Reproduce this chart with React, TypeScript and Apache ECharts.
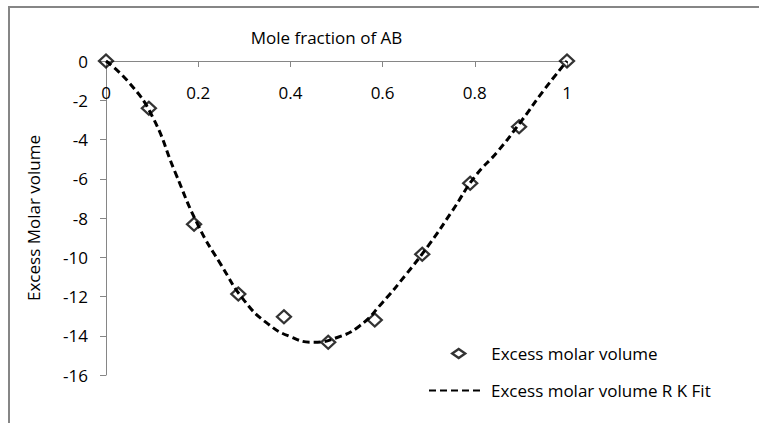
import React, { useEffect, useRef } from "react";
import * as echarts from "echarts";

const xObs = [0, 0.093, 0.191, 0.287, 0.386, 0.482, 0.583, 0.686, 0.79, 0.896, 1];
const yObs = [0, -2.41, -8.32, -11.87, -13.03, -14.33, -13.2, -9.85, -6.23, -3.35, 0];

const xFit = [0, 0.05, 0.1, 0.15, 0.2, 0.25, 0.3, 0.35, 0.4, 0.45, 0.5, 0.55, 0.6, 0.65, 0.7, 0.75, 0.8, 0.85, 0.9, 0.95, 1];
const yFit = [0, -1.1, -2.8, -5.67, -8.38, -10.4, -12.21, -13.37, -14.05, -14.33, -14.1, -13.5, -12.3, -10.9, -9.38, -7.68, -5.9, -4.6, -3.09, -1.48, 0];

const seriesNames = ["Excess molar volume", "Excess molar volume R K Fit"];
const xTitle = "Mole fraction of AB";
const yTitle = "Excess Molar volume";

const FONT = "Open Sans";

export default function App() {
  const ref = useRef<HTMLDivElement>(null);
  useEffect(() => {
    const chart = echarts.init(ref.current!, null, { renderer: "svg" });
    chart.setOption({
      animation: false,
      backgroundColor: "#fff",
      textStyle: { fontFamily: FONT, color: "#000" },
      graphic: [
        {
          type: "rect",
          shape: { x: 9, y: 7, width: 800, height: 500 },
          style: { fill: "none", stroke: "#868686", lineWidth: 2 },
          silent: true,
        },
      ],
      grid: { left: 106, right: 192, top: 61, bottom: 48, containLabel: false },
      xAxis: {
        type: "value",
        position: "top",
        min: 0,
        max: 1,
        interval: 0.2,
        name: xTitle,
        nameLocation: "middle",
        nameGap: 15,
        nameTextStyle: { fontFamily: FONT, fontSize: 17, color: "#000", padding: [0, 20, 0, 0] },
        axisLine: { onZero: false, lineStyle: { color: "#868686", width: 1 } },
        axisTick: { show: true, inside: true, length: 6, lineStyle: { color: "#868686" } },
        axisLabel: { inside: true, margin: 23, fontFamily: FONT, fontSize: 17, color: "#000" },
        splitLine: { show: false },
      },
      yAxis: {
        type: "value",
        min: -16,
        max: 0,
        interval: 2,
        name: yTitle,
        nameLocation: "middle",
        nameRotate: 90,
        nameGap: 64,
        nameTextStyle: { fontFamily: FONT, fontSize: 17, color: "#000" },
        axisLine: { show: true, lineStyle: { color: "#868686", width: 1 } },
        axisTick: { show: true, length: 6, lineStyle: { color: "#868686" } },
        axisLabel: { margin: 18, fontFamily: FONT, fontSize: 17, color: "#000" },
        splitLine: { show: false },
      },
      legend: [
        {
          data: [
            {
              name: seriesNames[0],
              icon: "diamond",
              itemStyle: { color: "#fff", borderColor: "#000", borderWidth: 2.4 },
            },
          ],
          padding: 0,
          left: 451,
          top: 345,
          itemWidth: 13,
          itemHeight: 9,
          textStyle: { fontFamily: FONT, fontSize: 17, color: "#000", padding: [0, 0, 0, 21] },
        },
        {
          data: [{ name: seriesNames[1], itemStyle: { opacity: 0 } }],
          padding: 0,
          left: 428,
          top: 382,
          itemWidth: 55,
          itemHeight: 14,
          textStyle: { fontFamily: FONT, fontSize: 17, color: "#000", padding: [0, 0, 0, 2] },
        },
      ],
      series: [
        {
          name: seriesNames[1],
          type: "line",
          data: xFit.map((x, i) => [x, yFit[i]]),
          smooth: true,
          symbol: "none",
          lineStyle: { color: "#000", width: 3, type: [7, 4] },
          itemStyle: { color: "#000" },
          z: 2,
        },
        {
          name: seriesNames[0],
          type: "scatter",
          data: xObs.map((x, i) => [x, yObs[i]]),
          symbol: "diamond",
          symbolSize: [14, 13],
          itemStyle: { color: "rgba(255,255,255,0)", borderColor: "#000", borderWidth: 2.3 },
          z: 3,
        },
      ],
    });
    return () => chart.dispose();
  }, []);
  return (
    <div
      ref={ref}
      style={{ position: "absolute", left: 0, top: 0, width: 759, height: 423, background: "#fff" }}
    />
  );
}
